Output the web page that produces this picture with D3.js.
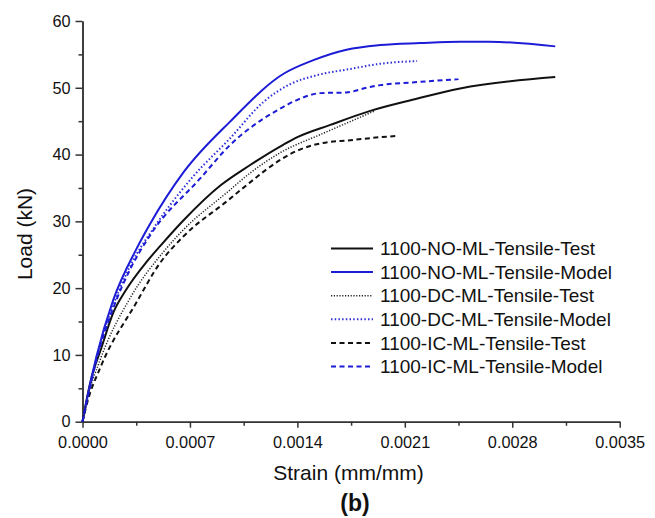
<!DOCTYPE html>
<html>
<head>
<meta charset="UTF-8">
<title>Load vs Strain</title>
<style>
  body { margin: 0; background: #fff; }
  svg text { font-family: "Liberation Sans", Arial, sans-serif; fill: #111; }
  .axis path, .axis line { stroke: #333; stroke-width: 1.5; fill: none; }
  .axis text { font-size: 16.3px; }
</style>
</head>
<body>
<script src="https://d3js.org/d3.v7.min.js"></script>
<script>
// series names (legend order)
var seriesNames = [
  "1100-NO-ML-Tensile-Test",
  "1100-NO-ML-Tensile-Model",
  "1100-DC-ML-Tensile-Test",
  "1100-DC-ML-Tensile-Model",
  "1100-IC-ML-Tensile-Test",
  "1100-IC-ML-Tensile-Model"
];

// [strain (mm/mm), load (kN)]
var noTest = [[0,0],[0.00005,5.8],[0.000125,11.2],[0.0002,16.3],[0.00028,19.6],[0.00042,24.0],
  [0.00051,26.4],[0.00066,30.2],[0.0009,35.4],[0.00109,38.4],[0.00131,41.5],[0.0014,42.6],
  [0.00161,44.4],[0.00187,46.5],[0.00215,48.2],[0.00246,49.9],[0.00308,51.6]];
var noModel = [[0,0],[0.000027,3.2],[0.00009,9.7],[0.0002,18.2],[0.00035,25.8],[0.00044,29.6],
  [0.00066,37.4],[0.00096,44.9],[0.00131,52.1],[0.0015,54.1],[0.00172,55.7],[0.00194,56.4],
  [0.0022,56.7],[0.00246,56.9],[0.00265,56.9],[0.00308,56.2]];
var dcTest = [[0,0],[0.000027,3.0],[0.000114,9.2],[0.00031,18.5],[0.00053,25.5],[0.00066,28.8],
  [0.00094,34.3],[0.00109,37.2],[0.00129,40.3],[0.00155,43.0],[0.00174,44.9],[0.0019,46.5]];
var dcModel = [[0,0],[0.00003,3.2],[0.00009,9.3],[0.000244,20.0],[0.00031,23.3],[0.00047,29.2],
  [0.00072,36.7],[0.00096,42.4],[0.00118,47.9],[0.00135,50.5],[0.00153,51.9],[0.00174,52.8],
  [0.00194,53.6],[0.00218,54.0]];
var icTest = [[0,0],[0.00003,2.8],[0.00012,8.3],[0.00035,17.8],[0.0005,23.6],[0.00066,27.8],
  [0.00094,33.0],[0.00109,35.8],[0.0012,37.8],[0.0014,40.6],[0.0015,41.4],[0.00161,41.9],
  [0.00172,42.1],[0.00194,42.6],[0.00206,42.8]];
var icModel = [[0,0],[0.00003,3.2],[0.00009,9.2],[0.0002,17.0],[0.00031,22.8],[0.00044,27.9],
  [0.00077,36.5],[0.00096,41.4],[0.00118,45.4],[0.00129,46.9],[0.0014,48.2],[0.00155,49.2],
  [0.00172,49.3],[0.00185,50.0],[0.00194,50.4],[0.00215,50.8],[0.00245,51.3]];

var xTicks = [0, 0.0007, 0.0014, 0.0021, 0.0028, 0.0035];
var yTicks = [0, 10, 20, 30, 40, 50, 60];

var allSeries = [noTest, noModel, dcTest, dcModel, icTest, icModel];
var styles = [
  {color: "#111", width: 2, dash: null},
  {color: "#1c1cd6", width: 2, dash: null},
  {color: "#222", width: 1.5, dash: "1.2,1.6"},
  {color: "#3030d8", width: 2, dash: "1.5,2.2"},
  {color: "#111", width: 2, dash: "5,3.5"},
  {color: "#1c1cd6", width: 2, dash: "5,3.5"}
];

var width = 655, height = 518;
var x = d3.scaleLinear().domain([0, 0.0035]).range([82.5, 619.7]);
var y = d3.scaleLinear().domain([0, 60]).range([421.7, 21]);

var svg = d3.select("body").append("svg")
  .attr("width", width)
  .attr("height", height);

// minor ticks
var xMinor = d3.range(0, 6).map(function(i) { return 0.00035 + i * 0.0007; });
var yMinor = d3.range(0, 6).map(function(i) { return 5 + i * 10; });

svg.append("g").attr("class", "axis")
  .attr("transform", "translate(0," + y(0) + ")")
  .call(d3.axisBottom(x).tickValues(xMinor).tickFormat("").tickSize(4).tickSizeOuter(0));
svg.append("g").attr("class", "axis")
  .attr("transform", "translate(" + x(0) + ",0)")
  .call(d3.axisLeft(y).tickValues(yMinor).tickFormat("").tickSize(4).tickSizeOuter(0));

var xAxis = svg.append("g").attr("class", "axis")
  .attr("transform", "translate(0," + y(0) + ")")
  .call(d3.axisBottom(x).tickValues(xTicks).tickFormat(d3.format(".4f")).tickSize(6).tickSizeOuter(0).tickPadding(9));
var yAxis = svg.append("g").attr("class", "axis")
  .attr("transform", "translate(" + x(0) + ",0)")
  .call(d3.axisLeft(y).tickValues(yTicks).tickSize(7).tickSizeOuter(0).tickPadding(5));

// curves
var line = d3.line()
  .x(function(d) { return x(d[0]); })
  .y(function(d) { return y(d[1]); })
  .curve(d3.curveMonotoneX);

allSeries.forEach(function(s, i) {
  var st = styles[i];
  svg.append("path")
    .attr("d", line(s))
    .attr("fill", "none")
    .attr("stroke", st.color)
    .attr("stroke-width", st.width)
    .attr("stroke-dasharray", st.dash);
});

// legend
var legend = svg.append("g").attr("transform", "translate(331,248.5)");
seriesNames.forEach(function(name, i) {
  var st = styles[i];
  var row = legend.append("g").attr("transform", "translate(0," + (i * 23.6) + ")");
  row.append("line")
    .attr("x1", 0).attr("x2", 42).attr("y1", 0).attr("y2", 0)
    .attr("stroke", st.color)
    .attr("stroke-width", st.width)
    .attr("stroke-dasharray", st.dash);
  row.append("text")
    .attr("x", 49).attr("y", 6.7)
    .style("font-size", "19px")
    .text(name);
});

// axis titles
svg.append("text")
  .attr("x", 348.5).attr("y", 480)
  .attr("text-anchor", "middle")
  .style("font-size", "21px")
  .text("Strain (mm/mm)");

svg.append("text")
  .attr("transform", "translate(32,234) rotate(-90)")
  .attr("text-anchor", "middle")
  .style("font-size", "21px")
  .text("Load (kN)");

svg.append("text")
  .attr("x", 355).attr("y", 511)
  .attr("text-anchor", "middle")
  .style("font-size", "23px")
  .style("font-weight", "bold")
  .text("(b)");
</script>
</body>
</html>
